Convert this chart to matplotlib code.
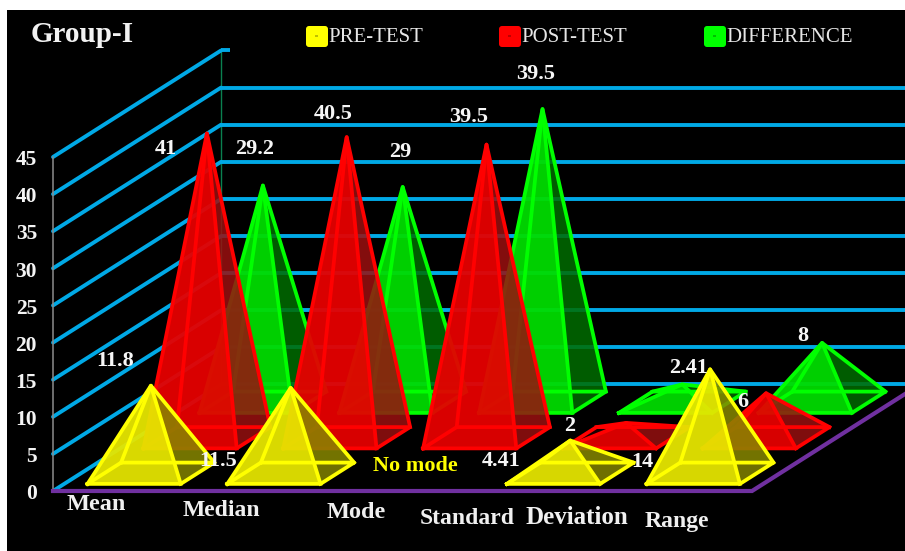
import matplotlib
matplotlib.use("Agg")
import matplotlib.pyplot as plt
from matplotlib.patches import FancyBboxPatch, Polygon, Rectangle
from matplotlib.transforms import IdentityTransform, ScaledTranslation

CATEGORIES = ["Mean", "Median", "Mode", "Standard Deviation", "Range"]
PRE_TEST = [11.8, 11.5, None, 4.41, 14]
POST_TEST = [41, 40.5, 39.5, 2, 6]
DIFFERENCE = [29.2, 29, 39.5, 2.41, 8]
SERIES_NAMES = ["PRE-TEST", "POST-TEST", "DIFFERENCE"]
VALUE_TICKS = list(range(0, 50, 5))

W, H = 905, 551
BLUE = "#00A9E6"
PURPLE = "#7030A0"
SERIF = "Liberation Serif"

# Oblique floor: one unit of depth moves this far along each chart axis
DEPTH_X = 168 / 139.8
DEPTH_V = 106.5 / 7.422
BAR_MARGIN = 1 / 6
HALF_DEPTH = 0.1


def project(x, value, depth):
    return x + depth * DEPTH_X, value + depth * DEPTH_V


def fig_xy(px, py):
    return px / W, 1 - py / H


fig = plt.figure(figsize=(W / 100, H / 100), dpi=100, facecolor="white")
fig.patches.append(Rectangle(fig_xy(7, H), (W - 7) / W, (H - 10) / H,
                             transform=fig.transFigure, facecolor="black",
                             edgecolor="none", zorder=0))

ax = fig.add_axes([53 / W, (H - 491) / H, 699 / W, 334 / H], zorder=2)
ax.set_xlim(0, len(CATEGORIES))
ax.set_ylim(0, 45)
ax.patch.set_visible(False)
for name in ("top", "right", "bottom"):
    ax.spines[name].set_visible(False)
ax.spines["left"].set_color("#8c8c8c")
ax.spines["left"].set_linewidth(1.1)
ax.set_xticks([])
ax.set_yticks(VALUE_TICKS)
ax.tick_params(axis="y", length=0, pad=11.5, labelcolor="#F4F4F4")
nudge = ScaledTranslation(0, -0.5 / 72, fig.dpi_scale_trans)
for label in ax.get_yticklabels():
    label.set_fontfamily(SERIF)
    label.set_fontweight("bold")
    label.set_fontsize(15.5)
    label.set_transform(label.get_transform() + nudge)

# Back wall edge and gridlines
back_x, _ = project(0, 0, 1)
ax.plot([back_x, back_x], [DEPTH_V, 45 + DEPTH_V], color="#0A8050", lw=1,
        clip_on=False, zorder=1)
for tick in VALUE_TICKS:
    xs, ys = zip(project(0, tick, 0), project(0, tick, 1))
    ax.plot(xs, ys, color=BLUE, lw=2.8, clip_on=False, zorder=2,
            solid_capstyle="round")
    span = 0.065 if tick == VALUE_TICKS[-1] else len(CATEGORIES)
    ax.plot([back_x, back_x + span], [tick + DEPTH_V] * 2, color=BLUE, lw=2.8,
            clip_on=False, zorder=2, solid_capstyle="butt")

# Floor front and right edges
front = [project(0, 0, 0), project(len(CATEGORIES), 0, 0), project(len(CATEGORIES), 0, 1)]
ax.plot(*zip(*front), color=PURPLE, lw=3, clip_on=False, zorder=3,
        solid_joinstyle="miter")


def draw_pyramid(i, value, depth, color, order):
    x0, x1 = i + BAR_MARGIN, i + 1 - BAR_MARGIN
    d0, d1 = depth - HALF_DEPTH, depth + HALF_DEPTH
    fl = project(x0, 0, d0)
    fr = project(x1, 0, d0)
    br = project(x1, 0, d1)
    bl = project(x0, 0, d1)
    apex = project(i + 0.5, value, depth)
    faces = [
        ([bl, br, apex], color["back"], 0.10),
        ([fl, bl, apex], color["back"], 0.10),
        ([fr, br, apex], color["side"], 0.84),
        ([fl, fr, apex], color["front"], 0.94),
    ]
    for k, (pts, fc, alpha) in enumerate(faces):
        ax.add_patch(Polygon(pts, closed=True, facecolor=fc, edgecolor="none",
                             alpha=alpha, clip_on=False, zorder=order + k * 0.01))
    edges = [[fl, fr, br, bl, fl], [fl, apex, fr], [bl, apex, br]]
    for path in edges:
        ax.plot(*zip(*path), color=color["line"], lw=2.7, clip_on=False,
                solid_joinstyle="round", zorder=order + 0.05)
    return apex


STYLES = [
    {"front": "#E6E600", "side": "#858500", "back": "#FFFF00", "line": "#FFFF00"},
    {"front": "#E60000", "side": "#981010", "back": "#FF0000", "line": "#FF0000"},
    {"front": "#00DC00", "side": "#006A00", "back": "#00FF00", "line": "#00FF00"},
]
DEPTHS = [1 / 6, 1 / 2, 5 / 6]
ALL_VALUES = [PRE_TEST, POST_TEST, DIFFERENCE]

# Label offsets from each apex, in points
OFFSETS = [
    [(-26, 18), (-52, -52.5), None, (-50, -14.5), (-49, -66.5)],
    [(-29.5, -11), (-9.5, 16.5), (-13, 20), (-41, -2.5), (-17, -6.5)],
    [(-6, 26), (-2, 25.5), (-5, 25.5), (4.5, 11.5), (-14, 5)],
]

labels = []
order = 4
for s in (2, 1, 0):
    for i, value in enumerate(ALL_VALUES[s]):
        if value is None:
            continue
        apex = draw_pyramid(i, value, DEPTHS[s], STYLES[s], order)
        order += 1
        labels.append((f"{value:g}", apex, OFFSETS[s][i]))

for text, apex, offset in labels:
    ax.annotate(text, xy=apex, xytext=offset, textcoords="offset points",
                ha="center", va="center", color="#F6F6F6", family=SERIF,
                fontweight="bold", fontsize=16, annotation_clip=False, zorder=60)

# The missing pre-test mode is called out in place of its pyramid
ax.annotate("No mode", xy=project(2.5, 0, DEPTHS[0]), xytext=(-11, 5),
            textcoords="offset points", ha="center", va="center",
            color="#FFFF00", family=SERIF, fontweight="bold", fontsize=16,
            annotation_clip=False, zorder=60)

# Category captions
CAPTIONS = [("Mean", 96, 504, 17.5), ("Median", 221, 510, 17), ("Mode", 356, 512, 17.5),
            ("Standard", 467, 519, 17), ("Deviation", 577, 518, 18), ("Range", 677, 522, 17)]
for text, px, py, size in CAPTIONS:
    fig.text(*fig_xy(px, py), text, ha="center", va="center", color="#F0F0F0",
             family=SERIF, fontweight="bold", fontsize=size, zorder=5)

fig.text(*fig_xy(82, 35), "Group-I", ha="center", va="center", color="#F2F2F2",
         family=SERIF, fontweight="bold", fontsize=21, zorder=5)

# Legend row
LEGEND_COLORS = ["#FFFF00", "#FF0000", "#00FF00"]
LEGEND_X = [305, 498, 703]
for name, fc, px in zip(SERIES_NAMES, LEGEND_COLORS, LEGEND_X):
    fig.patches.append(FancyBboxPatch((px + 1, H - 47), 22, 21,
                                      boxstyle="round,pad=0,rounding_size=3",
                                      mutation_scale=1, linewidth=0, facecolor=fc,
                                      transform=IdentityTransform(), zorder=1))
    dot_x, dot_y = px + 11.5, H - 36
    fig.patches.append(Rectangle((dot_x - 1.2, dot_y - 1.2), 2.4, 2.4,
                                 transform=IdentityTransform(), facecolor="black",
                                 edgecolor="none", alpha=0.25, zorder=2))
    fig.text(*fig_xy(px + 23, 37.5), name, ha="left", va="center", color="#E6E6E6",
             family=SERIF, fontsize=15, zorder=5)

fig.savefig("out.png", dpi=100, facecolor=fig.get_facecolor())
